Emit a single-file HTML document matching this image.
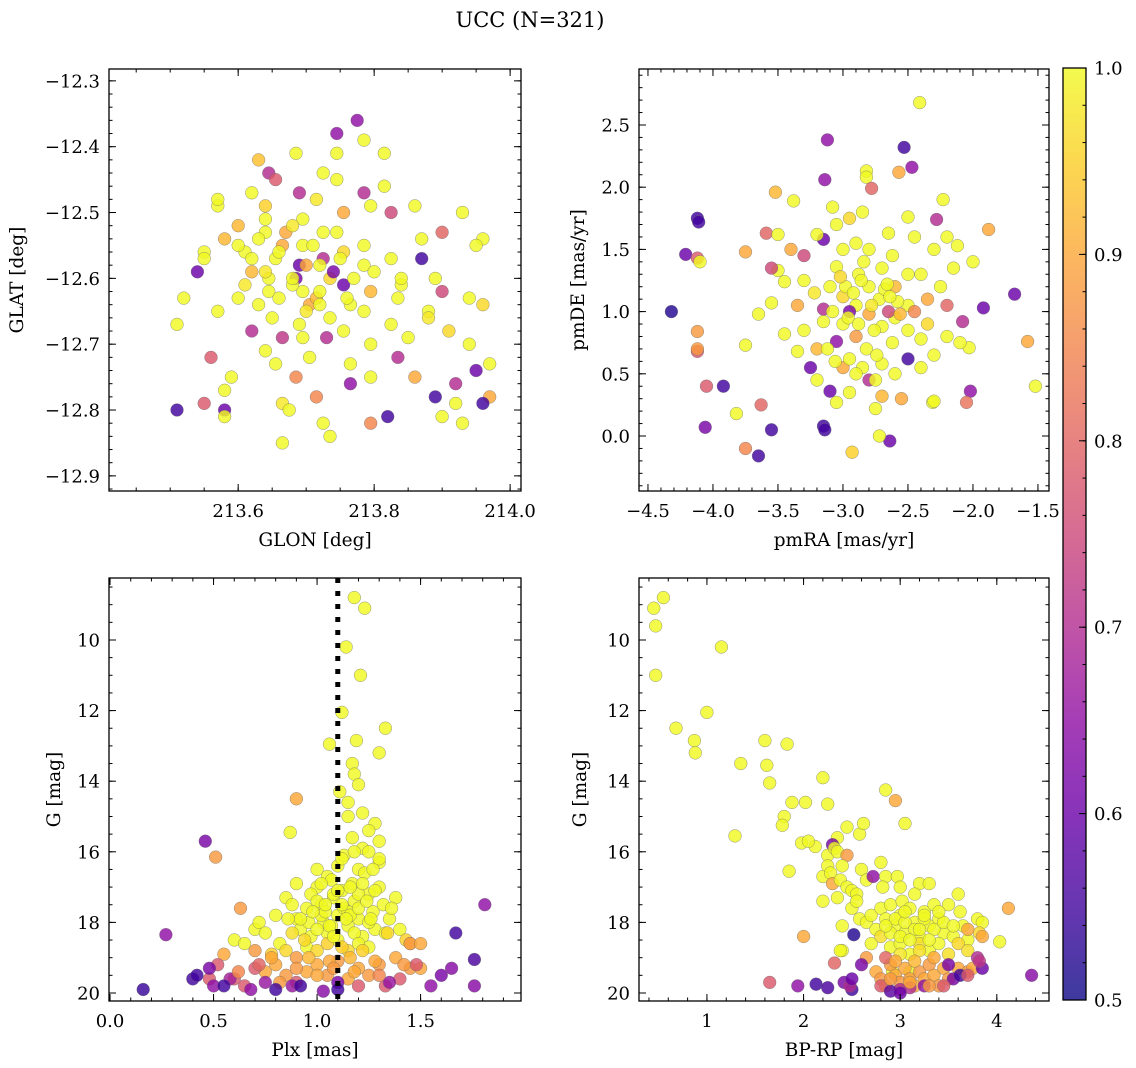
<!DOCTYPE html>
<html><head><meta charset="utf-8"><style>
html,body{margin:0;padding:0;background:#fff;}
svg{display:block;font-family:"DejaVu Serif","Liberation Serif",serif;}
</style></head><body>
<svg id="fig" width="1136" height="1068" viewBox="0 0 1136 1068" xmlns="http://www.w3.org/2000/svg">
<defs><linearGradient id="plasma" x1="0" y1="1" x2="0" y2="0">
<stop offset="0" stop-color="#0d0887"/><stop offset="0.1" stop-color="#41049d"/><stop offset="0.2" stop-color="#6a00a8"/><stop offset="0.3" stop-color="#8f0da4"/><stop offset="0.4" stop-color="#b12a90"/><stop offset="0.5" stop-color="#cc4778"/><stop offset="0.6" stop-color="#e16462"/><stop offset="0.7" stop-color="#f2844b"/><stop offset="0.8" stop-color="#fca636"/><stop offset="0.9" stop-color="#fcce25"/><stop offset="1" stop-color="#f0f921"/>
</linearGradient></defs>
<text x="530" y="27" font-size="21" text-anchor="middle">UCC (N=321)</text>
</svg>
<script>
// Panel 1: GLON / GLAT
const p1x=[213.51,213.52,213.51,213.54,213.55,213.55,213.56,213.55,213.57,213.57,213.57,213.58,213.58,213.59,213.58,213.6,213.6,213.61,213.62,213.63,213.64,213.64,213.62,213.63,213.64,213.645,213.655,213.655,213.645,213.665,213.655,213.665,213.665,213.675,213.685,213.685,213.69,213.695,213.69,213.695,213.705,213.695,213.705,213.715,213.715,213.725,213.725,213.735,213.735,213.725,213.735,213.745,213.745,213.745,213.755,213.745,213.755,213.755,213.765,213.755,213.765,213.765,213.775,213.785,213.785,213.795,213.785,213.785,213.795,213.785,213.795,213.795,213.795,213.815,213.815,213.825,213.825,213.835,213.825,213.835,213.82,213.84,213.85,213.86,213.86,213.87,213.87,213.88,213.89,213.89,213.9,213.9,213.9,213.91,213.92,213.92,213.93,213.93,213.94,213.94,213.95,213.96,213.96,213.97,213.97,213.96,213.95,213.685,213.715,213.665,213.645,213.695,213.725,
213.62,213.64,213.66,213.68,213.70,213.72,213.74,213.66,213.68,213.70,213.72,213.63,213.67,213.71,213.75,213.61,213.65,213.69,213.73,213.77,213.60,213.64,213.68,213.72,213.76,213.58,213.62,213.80,213.84,213.88];
const p1y=[-12.80,-12.63,-12.67,-12.59,-12.56,-12.57,-12.72,-12.79,-12.49,-12.48,-12.65,-12.80,-12.81,-12.75,-12.77,-12.63,-12.52,-12.56,-12.68,-12.42,-12.49,-12.53,-12.59,-12.64,-12.71,-12.44,-12.45,-12.57,-12.60,-12.69,-12.73,-12.79,-12.85,-12.80,-12.75,-12.41,-12.47,-12.55,-12.58,-12.62,-12.64,-12.69,-12.72,-12.78,-12.48,-12.53,-12.57,-12.60,-12.66,-12.82,-12.84,-12.38,-12.41,-12.45,-12.50,-12.53,-12.56,-12.61,-12.64,-12.68,-12.73,-12.76,-12.36,-12.39,-12.47,-12.49,-12.55,-12.58,-12.62,-12.65,-12.70,-12.75,-12.82,-12.41,-12.46,-12.50,-12.57,-12.63,-12.67,-12.72,-12.81,-12.61,-12.69,-12.75,-12.49,-12.57,-12.54,-12.65,-12.78,-12.60,-12.62,-12.81,-12.53,-12.68,-12.76,-12.79,-12.50,-12.82,-12.63,-12.70,-12.74,-12.54,-12.64,-12.73,-12.78,-12.79,-12.55,-12.60,-12.63,-12.55,-12.62,-12.51,-12.44,
-12.57,-12.59,-12.56,-12.61,-12.58,-12.62,-12.59,-12.63,-12.60,-12.65,-12.64,-12.54,-12.53,-12.55,-12.57,-12.61,-12.66,-12.67,-12.69,-12.60,-12.55,-12.51,-12.52,-12.58,-12.63,-12.54,-12.47,-12.59,-12.60,-12.66];
const p1c=[0.55,1,1,0.6,1,1,0.78,0.78,1,1,1,0.6,1,1,1,1,0.92,1,0.7,0.93,0.95,1,0.92,1,1,0.7,0.78,1,1,0.72,1,0.98,1,1,0.85,1,0.7,1,0.6,1,0.9,1,1,0.85,0.98,1,0.7,0.96,1,1,1,0.65,1,1,0.9,1,0.96,0.6,1,1,1,0.65,0.65,1,0.7,1,1,1,0.92,1,1,1,0.85,1,1,0.75,1,1,1,0.7,0.55,1,1,0.9,1,0.55,1,1,0.55,1,0.75,1,0.8,0.96,0.7,1,1,1,1,1,0.6,1,0.96,1,0.9,0.55,1,0.62,0.92,0.9,1,1,1,
1,0.98,1,1,0.9,1,0.62,1,1,0.98,1,1,0.9,1,1,0.98,1,1,0.7,1,1,1,0.98,1,1,0.92,1,1,1,0.98];
// Panel 2: pmRA / pmDE
const p2x=[-2.41,-4.12,-4.11,-4.21,-4.32,-4.12,-4.12,-3.12,-2.53,-2.47,-3.14,-2.82,-2.82,-2.57,-2.23,-3.52,-3.38,-3.08,-2.78,-2.12,-1.88,-1.68,-1.52,-1.58,-1.92,-2.08,-2.28,-2.0,-2.03,-2.02,-2.05,-2.31,-3.65,-3.75,-2.93,-2.64,-4.06,-3.55,-3.15,-3.14,-2.72,-3.82,-3.63,-4.05,-3.92,-4.12,-4.12,-3.75,-4.1,-3.75,-3.59,-3.5,-3.65,-3.55,-3.45,-3.5,-3.4,-3.3,-3.35,-3.3,-3.25,-3.35,-3.45,-3.2,-3.2,-3.15,-3.15,-3.1,-3.15,-3.05,-3.0,-3.05,-3.0,-3.0,-3.05,-3.0,-3.1,-3.05,-2.95,-2.95,-2.9,-2.9,-2.88,-2.9,-2.95,-2.85,-2.8,-2.8,-2.8,-2.82,-2.8,-2.75,-2.7,-2.7,-2.7,-2.72,-2.7,-2.65,-2.62,-2.6,-2.6,-2.62,-2.6,-2.55,-2.5,-2.5,-2.5,-2.5,-2.5,-2.45,-2.45,-2.4,-2.4,-2.4,-2.35,-2.35,-2.3,-2.3,-2.25,-2.2,-2.2,-2.15,-2.1,-2.3,-2.2,-3.55,-3.3,-3.2,-2.95,-2.85,-2.75,-2.65,
-2.98,-2.92,-2.86,-2.78,-2.68,-2.58,-3.08,-3.02,-2.96,-2.88,-2.76,-2.66,-2.56,-3.12,-2.84,-2.74,-2.64,-3.22,-3.06,-2.9];
const p2y=[2.68,1.75,1.72,1.46,1.0,0.68,1.43,2.38,2.32,2.16,2.06,2.13,2.08,2.12,1.9,1.96,1.89,1.84,1.99,1.53,1.66,1.14,0.40,0.76,1.03,0.92,1.74,1.4,0.71,0.36,0.27,0.27,-0.16,-0.1,-0.13,-0.04,0.07,0.05,0.08,0.05,0.0,0.18,0.25,0.4,0.4,0.84,0.7,0.73,1.4,1.48,1.63,1.62,0.98,1.07,1.24,1.33,1.5,1.25,1.05,0.85,0.55,0.68,0.82,0.45,0.7,0.92,1.02,1.2,1.58,1.7,1.5,1.36,1.12,0.9,0.76,0.55,0.36,0.27,0.35,0.62,0.8,1.05,1.3,1.55,1.75,1.8,1.5,1.2,0.98,0.7,0.45,0.22,0.32,0.58,0.88,1.1,1.35,1.63,1.45,1.2,0.95,0.75,0.5,0.3,0.62,0.85,1.05,1.3,1.76,1.6,1.0,0.55,0.78,1.3,1.1,0.9,0.28,0.65,1.2,1.05,0.8,1.35,0.75,1.5,1.6,1.35,1.45,1.62,1.0,0.55,0.45,1.0,
1.2,1.15,1.25,1.05,1.18,1.08,1.0,1.28,0.95,0.9,0.85,1.22,0.98,0.7,1.4,0.65,1.12,1.15,0.6,0.5];
const p2c=[1,0.55,0.55,0.6,0.52,0.78,0.78,0.65,0.55,0.65,0.65,1,1,0.9,1,0.92,1,1,0.8,1,0.9,0.6,1,0.9,0.6,0.7,0.7,1,1,0.65,0.82,1,0.55,0.85,0.95,0.6,0.62,0.55,0.55,0.55,1,1,0.8,0.78,0.55,0.88,0.88,1,1,0.9,0.8,1,1,1,1,1,0.9,1,0.9,1,0.6,1,1,1,0.92,1,0.7,1,0.6,1,1,1,0.96,1,0.65,0.9,0.6,1,1,1,0.88,1,1,1,0.96,1,1,1,0.9,1,0.7,1,0.92,1,1,1,1,1,1,0.92,1,1,1,0.9,0.55,1,1,1,1,1,0.85,1,1,1,0.9,0.96,1,1,1,0.8,1,1,1,1,1,0.75,0.75,1,0.62,1,1,0.75,
1,1,1,0.98,1,1,1,0.96,1,1,1,1,0.92,1,1,1,1,0.98,1,1];
// Panel 3: Plx / G
const p3x=[1.18,1.23,1.14,1.21,1.12,1.33,1.06,1.19,1.3,1.17,1.11,0.9,0.87,0.46,0.51,1.18,1.2,1.15,1.22,1.28,1.25,1.17,1.22,1.13,1.3,1.2,1.05,1.1,1.15,1.3,1.25,0.6,0.65,0.7,0.72,0.75,0.8,0.82,0.85,0.88,0.9,0.92,0.95,0.97,1.0,1.02,1.03,1.05,1.07,1.08,1.1,1.1,1.12,1.13,1.15,1.17,1.18,1.2,1.22,1.23,1.25,1.27,1.28,1.3,1.32,1.35,1.38,1.4,1.43,1.45,0.95,1.0,1.05,0.85,0.78,1.15,1.25,1.12,1.18,1.27,1.3,0.9,1.0,1.02,0.97,1.07,1.15,1.2,1.25,1.33,0.63,1.45,1.5,0.55,0.7,0.8,0.9,1.0,1.1,1.2,1.3,1.38,1.45,0.75,0.85,0.95,1.05,1.15,1.25,0.82,1.5,0.52,0.6,0.7,0.48,0.9,1.2,1.4,1.48,0.65,1.33,0.5,0.48,0.58,0.68,0.88,1.03,1.1,1.35,1.55,1.6,1.65,0.75,0.4,0.42,0.55,0.8,0.92,1.1,0.27,1.81,1.67,1.76,1.76,0.16,
1.0,1.04,1.08,1.12,1.16,1.2,1.24,0.96,1.0,1.06,1.14,1.18,1.26,0.92,0.98,1.04,1.1,1.16,1.22,1.28,0.88,0.94,1.08,1.2,1.34,1.36,1.02,0.86,1.12,1.22,0.78,0.96,1.06,1.16,1.28,0.62,0.72,0.9,1.0,1.08,1.18,1.3,1.42];
const p3y=[8.8,9.1,10.2,11.0,12.05,12.5,12.95,12.85,13.2,13.5,14.3,14.5,15.45,15.7,16.15,13.8,14.1,14.6,14.9,15.2,15.4,15.6,15.9,16.1,16.3,16.5,16.7,16.4,15.0,15.7,16.0,18.5,18.6,18.2,18.0,18.3,17.8,18.6,17.3,17.5,17.9,18.2,17.6,18.4,17.0,17.5,18.0,18.3,16.8,17.3,17.8,18.5,17.1,17.6,18.1,16.9,17.4,17.9,18.4,16.6,17.2,17.7,18.2,17.0,17.5,17.9,17.3,18.2,18.5,18.6,18.7,18.8,18.6,18.8,18.9,18.8,18.7,16.2,16.0,16.5,16.2,16.9,16.5,17.8,17.2,18.1,17.7,17.2,18.0,18.3,17.6,18.6,18.6,18.9,18.8,19.2,19.0,19.2,19.1,19.3,19.2,19.0,19.3,19.4,19.5,19.4,19.5,19.6,19.5,19.7,19.3,19.2,19.6,19.3,19.6,19.7,19.8,19.6,19.2,19.8,19.8,19.8,19.3,19.6,19.9,19.8,19.95,19.7,19.7,19.8,19.5,19.3,19.7,19.6,19.5,19.8,19.9,19.8,19.9,18.35,17.5,18.3,19.05,19.8,19.9,
17.4,17.7,17.2,17.5,17.8,17.6,17.4,18.0,18.2,18.1,17.9,18.3,17.9,17.9,17.7,17.5,17.1,17.0,16.9,17.1,18.3,18.5,18.4,18.6,18.3,17.6,16.9,17.9,18.7,18.8,19.0,19.0,19.1,19.0,19.1,19.4,19.2,19.3,19.5,19.3,19.4,19.5,19.2];
const p3c=[1,1,1,1,1,1,1,1,1,1,1,0.9,1,0.62,0.88,1,1,1,1,1,1,1,1,1,1,1,1,1,1,1,1,1,1,1,1,1,1,1,1,1,1,1,1,1,1,1,1,1,1,1,1,1,1,1,1,1,1,1,1,1,1,1,1,1,1,1,1,1,0.95,0.92,1,0.96,0.95,0.96,0.95,0.96,1,1,1,1,1,1,1,1,1,1,1,1,1,1,0.88,0.88,0.9,0.9,0.88,0.9,0.88,0.9,0.88,0.9,0.88,0.9,0.88,0.9,0.88,0.9,0.88,0.9,0.88,0.88,0.9,0.78,0.78,0.78,0.78,0.78,0.78,0.78,0.78,0.78,0.78,0.65,0.62,0.68,0.65,0.66,0.64,0.62,0.66,0.65,0.62,0.64,0.66,0.55,0.55,0.55,0.55,0.55,0.55,0.65,0.65,0.55,0.56,0.64,0.54,
1,1,1,1,1,1,1,1,1,1,1,1,1,1,1,1,1,1,1,1,0.97,0.96,1,1,0.96,1,1,1,0.95,0.95,0.9,0.92,0.9,0.92,0.9,0.85,0.8,0.88,0.9,0.88,0.9,0.85,0.88];
// Panel 4: BP-RP / G
const p4x=[0.55,0.45,0.47,0.47,0.68,0.87,0.88,1.0,1.15,1.35,1.29,1.6,1.62,1.65,1.83,1.8,1.88,1.78,1.85,2.02,1.98,2.12,2.2,2.25,2.45,2.35,2.58,2.62,2.85,2.95,3.05,2.05,2.25,2.3,2.32,2.35,2.45,2.2,2.25,2.28,2.3,2.4,2.38,2.45,2.5,2.55,2.6,2.65,2.72,2.8,2.85,2.82,2.97,3.0,3.2,3.3,2.2,2.35,2.5,2.55,2.58,2.65,2.7,2.75,2.8,2.85,2.9,2.95,3.0,3.02,3.05,3.1,3.15,3.15,3.2,3.25,3.3,3.35,3.4,3.45,3.5,3.55,3.6,3.62,3.65,3.7,3.8,3.85,3.82,2.4,2.4,2.7,2.8,2.9,3.0,3.1,3.2,3.3,3.4,3.5,3.6,3.7,3.1,2.92,2.75,2.8,2.85,2.9,2.95,3.0,3.05,3.1,3.15,3.2,3.25,3.3,3.35,3.4,3.45,3.5,3.6,3.7,3.75,2.85,2.65,3.85,3.7,4.12,4.03,2.0,2.52,1.65,1.94,2.13,2.25,2.32,2.38,2.6,4.36,2.8,3.0,3.25,3.8,3.85,3.82,3.55,3.62,3.5,3.7,3.45,2.9,3.1,2.42,2.5,2.48,2.5,3.0,
2.95,3.05,3.15,3.25,3.35,2.9,3.0,3.1,3.2,3.3,3.45,3.55,2.85,3.05,3.25,3.4,3.0,3.2,2.95,3.15,3.35,2.9,3.1,3.3];
const p4y=[8.8,9.1,9.6,11.0,12.5,12.85,13.2,12.05,10.2,13.5,15.55,12.85,13.55,14.05,12.95,15.0,14.6,15.25,16.55,14.6,15.75,15.85,13.9,14.65,15.3,15.6,15.5,15.2,14.25,14.55,15.2,15.7,16.1,15.8,15.9,16.0,16.1,16.7,16.4,16.6,16.9,16.4,16.8,17.0,17.1,17.2,16.5,16.8,16.7,16.3,16.7,17.0,16.7,17.0,16.9,16.9,17.4,17.3,17.6,17.4,17.9,18.0,17.8,18.2,17.6,17.9,17.5,18.1,17.8,17.4,18.3,17.6,18.0,17.2,18.4,17.7,18.1,17.5,17.9,18.3,17.5,18.4,17.2,17.7,18.1,18.5,17.9,18.0,18.3,18.1,18.8,18.6,18.4,18.7,18.6,18.9,18.6,18.8,18.6,18.9,18.6,18.8,19.4,19.4,19.4,19.6,19.8,19.2,19.5,19.7,19.3,19.6,19.8,19.4,19.6,19.2,19.5,19.8,19.3,19.6,19.3,19.4,19.3,19.0,19.0,18.4,18.2,17.6,18.55,18.4,18.35,19.7,19.8,19.75,19.85,19.15,18.8,19.2,19.5,19.8,19.9,19.8,19.0,19.3,19.1,19.6,19.5,19.2,19.5,19.8,19.95,19.85,19.7,19.9,19.8,19.6,20.0,
17.9,18.0,18.2,17.9,18.2,18.3,18.4,18.5,18.2,18.5,18.0,18.1,18.1,17.7,17.8,17.7,18.9,18.8,19.1,19.1,19.0,19.6,19.7,19.8];
const p4c=[1,1,1,1,1,1,1,1,1,1,1,1,1,1,1,1,1,1,1,1,1,1,1,1,1,1,1,1,1,0.9,1,1,1,0.62,1,1,0.88,1,1,1,0.9,1,1,1,1,1,1,1,0.65,1,1,1,1,1,1,1,1,1,1,1,1,1,1,1,1,1,1,1,1,1,1,1,1,1,1,1,1,1,1,1,1,1,1,1,1,1,1,1,0.96,1,1,1,0.97,1,1,1,0.97,1,1,0.97,0.96,0.97,1,1,0.9,0.88,0.9,0.88,0.9,0.88,0.9,0.88,0.9,0.88,0.9,0.88,0.9,0.88,0.9,0.88,0.9,0.88,0.9,0.8,0.88,0.9,0.9,0.9,1,0.9,0.52,0.78,0.65,0.55,0.56,0.8,1,0.62,0.64,0.78,0.7,0.65,0.7,0.6,0.72,0.62,0.55,0.62,0.78,0.78,0.58,0.7,0.62,0.55,0.7,0.6,0.6,
1,1,1,1,1,1,1,1,1,1,1,1,1,1,1,1,0.98,0.97,0.9,0.92,0.9,0.88,0.9,0.88];

const stops=[[13,8,135],[65,4,157],[106,0,168],[143,13,164],[177,42,144],[204,71,120],[225,100,98],[242,132,75],[252,166,54],[252,206,37],[240,249,33]];
function plasma(v){let t=Math.max(0,Math.min(1,(v-0.5)/0.5))*10;let i=Math.min(9,Math.floor(t));let f=t-i;const a=stops[i],b=stops[i+1];return 'rgb('+a.map((x,k)=>Math.round(x+(b[k]-x)*f)).join(',')+')';}
const svg=document.getElementById('fig');const NS='http://www.w3.org/2000/svg';
function mk(tag,attrs,parent){const e=document.createElementNS(NS,tag);for(const k in attrs)e.setAttribute(k,attrs[k]);(parent||svg).appendChild(e);return e;}
function fmt(v,d){let s=v.toFixed(d);if(Math.abs(v)<1e-9)s=(0).toFixed(d);return s.replace('-','\u2212');}
function ticks(a,b,step){const r=[];const s=Math.ceil(a/step-1e-6);for(let i=s;i*step<=b+1e-9;i++)r.push(i*step);return r;}
function panel(name,box,xd,yd,xs,ys,xsTick,ysTick,dec,xlab,ylab,ylabX,X,Y,C,vline){
  const g=mk('g',{});
  
  
  const [x0,y0,x1,y1]=box;
  const sx=v=>x0+(v-xd[0])/(xd[1]-xd[0])*(x1-x0);
  const sy=v=>y0+(v-yd[0])/(yd[1]-yd[0])*(y1-y0);
  const pts=mk('g',{},g);
  
  
  for(let i=0;i<X.length;i++){
    const c=mk('circle',{cx:sx(X[i]).toFixed(1),cy:sy(Y[i]).toFixed(1),r:6.4,fill:plasma(C[i]),'fill-opacity':0.82,stroke:'#6a6a6a','stroke-width':0.5,'stroke-opacity':0.7},pts);
    
    
  }
  if(vline!==undefined){const l=mk('line',{x1:sx(vline),x2:sx(vline),y1:y0,y2:y1,stroke:'#000','stroke-width':5,'stroke-dasharray':'5,8'},g);
    
    }
  const ax=mk('g',{stroke:'#000','stroke-width':1},g);
  
  
  mk('rect',{x:x0,y:y0,width:x1-x0,height:y1-y0,fill:'none','stroke-width':1.3},ax);
  ticks(Math.min(...xd),Math.max(...xd),xsTick).forEach(v=>{const x=sx(v);mk('line',{x1:x,x2:x,y1:y1,y2:y1-3.5},ax);mk('line',{x1:x,x2:x,y1:y0,y2:y0+3.5},ax);});
  ticks(Math.min(...yd),Math.max(...yd),ysTick).forEach(v=>{const y=sy(v);mk('line',{x1:x0,x2:x0+3.5,y1:y,y2:y},ax);mk('line',{x1:x1,x2:x1-3.5,y1:y,y2:y},ax);});
  xs.forEach(v=>{const x=sx(v);mk('line',{x1:x,x2:x,y1:y1,y2:y1-7},ax);mk('line',{x1:x,x2:x,y1:y0,y2:y0+7},ax);
    const t=mk('text',{x:x,y:y1+26,'font-size':18,'text-anchor':'middle'},g);t.textContent=fmt(v,dec[0]);
    
    });
  ys.forEach(v=>{const y=sy(v);mk('line',{x1:x0,x2:x0+7,y1:y,y2:y},ax);mk('line',{x1:x1,x2:x1-7,y1:y,y2:y},ax);
    const t=mk('text',{x:x0-9,y:y+6.5,'font-size':18,'text-anchor':'end'},g);t.textContent=fmt(v,dec[1]);
    
    });
  const xt=mk('text',{x:(x0+x1)/2,y:y1+55,'font-size':18.5,'text-anchor':'middle'},g);xt.textContent=xlab;
  
  
  const yt=mk('text',{x:ylabX,y:(y0+y1)/2,'font-size':18.5,'text-anchor':'middle',transform:'rotate(-90 '+ylabX+' '+(y0+y1)/2+')'},g);yt.textContent=ylab;
  
  
}
panel('glon-glat-panel',[109,69,521,491],[213.410,214.016],[-12.282,-12.923],[213.6,213.8,214.0],[-12.3,-12.4,-12.5,-12.6,-12.7,-12.8,-12.9],0.05,0.02,[1,1],'GLON [deg]','GLAT [deg]',23,p1x,p1y,p1c);
panel('pm-panel',[639,69,1049,491],[-4.569,-1.415],[2.95,-0.442],[-4.5,-4.0,-3.5,-3.0,-2.5,-2.0,-1.5],[0,0.5,1,1.5,2,2.5],0.1,0.1,[1,1],'pmRA [mas/yr]','pmDE [mas/yr]',584,p2x,p2y,p2c);
panel('plx-g-panel',[109,578,521,1001],[-0.005,1.985],[8.244,20.227],[0,0.5,1,1.5],[10,12,14,16,18,20],0.1,0.5,[1,0],'Plx [mas]','G [mag]',60,p3x,p3y,p3c,1.1);
panel('cmd-panel',[639,578,1049,1001],[0.297,4.54],[8.244,20.227],[1,2,3,4],[10,12,14,16,18,20],0.2,0.5,[0,0],'BP-RP [mag]','G [mag]',586,p4x,p4y,p4c);
// Colorbar
const cbTicks=[0.5,0.6,0.7,0.8,0.9,1.0];
const cb=mk('g',{});


const cbx0=1063,cbx1=1086,cby0=68,cby1=1000;
const cy=v=>cby1-(v-0.5)/0.5*(cby1-cby0);
mk('rect',{x:cbx0,y:cby0,width:cbx1-cbx0,height:cby1-cby0,fill:'url(#plasma)','fill-opacity':0.8},cb);
mk('rect',{x:cbx0,y:cby0,width:cbx1-cbx0,height:cby1-cby0,fill:'none',stroke:'#000','stroke-width':1.3},cb);
ticks(0.5,1.0,0.02).forEach(v=>mk('line',{x1:cbx1,x2:cbx1-3.5,y1:cy(v),y2:cy(v),stroke:'#000'},cb));
cbTicks.forEach(v=>{mk('line',{x1:cbx1,x2:cbx1-7,y1:cy(v),y2:cy(v),stroke:'#000'},cb);
  const t=mk('text',{x:1094,y:cy(v)+6.5,'font-size':18},cb);t.textContent=v.toFixed(1);
  
  });
</script>
</body></html>
